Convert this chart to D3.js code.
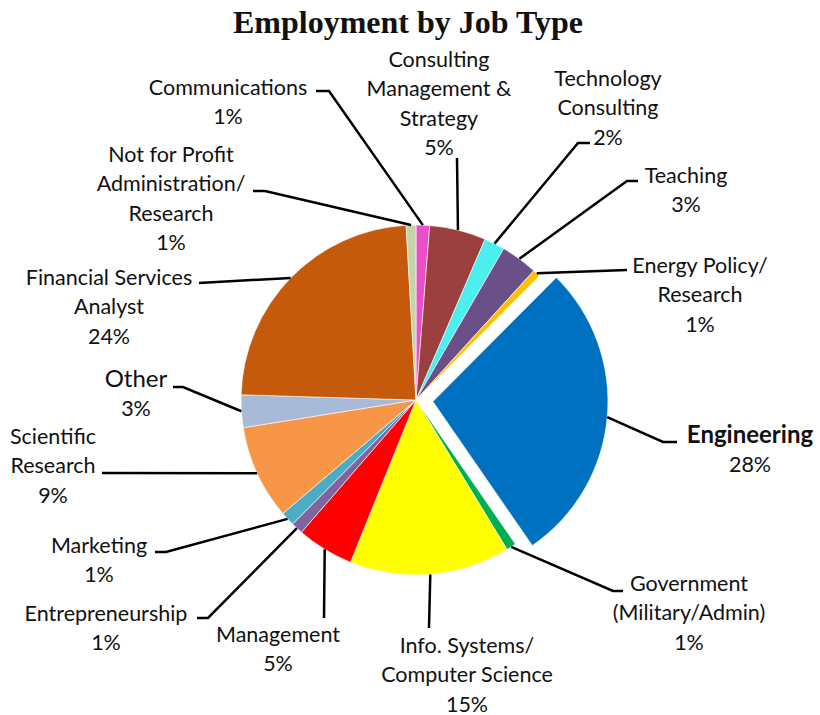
<!DOCTYPE html>
<html>
<head>
<meta charset="utf-8">
<script src="https://cdn.jsdelivr.net/npm/d3@7"></script>
<style>
  body { margin: 0; background: #fff; }
  text { font-family: Lato, "Open Sans", sans-serif; fill: #111; }
</style>
</head>
<body>
<div id="vis"></div>
<script>
// declare constants
const FRAME_WIDTH = 820;
const FRAME_HEIGHT = 715;
const CX = 416, CY = 400, RADIUS = 175;
const EXPLODE = 17;

// data, clockwise from 12 o'clock
const categories = ["Communications", "Consulting Management & Strategy", "Technology Consulting",
  "Teaching", "Energy Policy/ Research", "Engineering", "Government (Military/Admin)",
  "Info. Systems/ Computer Science", "Management", "Entrepreneurship", "Marketing",
  "Scientific Research", "Other", "Financial Services Analyst", "Not for Profit Administration/ Research"];
const values = [1.25, 5.2, 1.9, 3.4, 0.7, 27.9, 0.9, 14.8, 5.25, 1.1, 1.3, 8.7, 3.0, 23.6, 0.9];
const labelLines = [
  ["Communications"],
  ["Consulting", "Management &", "Strategy"],
  ["Technology", "Consulting"],
  ["Teaching"],
  ["Energy Policy/", "Research"],
  ["Engineering"],
  ["Government", "(Military/Admin)"],
  ["Info. Systems/", "Computer Science"],
  ["Management"],
  ["Entrepreneurship"],
  ["Marketing"],
  ["Scientific", "Research"],
  ["Other"],
  ["Financial Services", "Analyst"],
  ["Not for Profit", "Administration/", "Research"]
];
const colors = ["#EB4FC8", "#9B403E", "#4CEFF0", "#6A4F88", "#FFC000", "#0070C0", "#00B050",
  "#FFFF00", "#FF0000", "#8064A2", "#4BACC6", "#F79646", "#A9BAD8", "#C55A0C", "#C4D4A8"];

// label layout: text centre x, first line middle y, leader knee and tail
const labelPos = [
  {tx: 228, ty: 87,  knee: [329, 91],  tail: [316, 91]},
  {tx: 439, ty: 59,  knee: [457, 158], tail: null},
  {tx: 608, ty: 78,  knee: [578, 143], tail: [590, 143]},
  {tx: 686, ty: 175, knee: [627, 181], tail: [638, 181]},
  {tx: 700, ty: 265, knee: [627, 270], tail: null},
  {tx: 750, ty: 435, knee: [663, 442], tail: [677, 442], bold: true},
  {tx: 689, ty: 583, knee: [613, 591], tail: [623, 591]},
  {tx: 467, ty: 645, knee: [429, 628], tail: null},
  {tx: 278, ty: 634, knee: [324, 618], tail: null},
  {tx: 106, ty: 613, knee: [208, 618], tail: [197, 618]},
  {tx: 99,  ty: 545, knee: [166, 552], tail: [155, 552]},
  {tx: 53,  ty: 436, knee: [102, 473], tail: null},
  {tx: 136, ty: 379, knee: [183, 387], tail: [173, 387], big: true},
  {tx: 109, ty: 277, knee: [199, 283], tail: null},
  {tx: 171, ty: 154, knee: [265, 191], tail: [253, 191]}
];
const LINE_H = 29.5;

const total = d3.sum(values);
const data = categories.map((c, i) => ({name: c, value: values[i], lines: labelLines[i],
  color: colors[i], pos: labelPos[i], explode: c === "Engineering"}));

// make the frame
const FRAME = d3.select("#vis")
  .append("svg")
    .attr("width", FRAME_WIDTH)
    .attr("height", FRAME_HEIGHT);

// title
FRAME.append("text")
  .attr("x", 408)
  .attr("y", 33)
  .attr("text-anchor", "middle")
  .style("font-family", "'Liberation Serif', 'Times New Roman', serif")
  .style("font-weight", "bold")
  .style("font-size", "32px")
  .text("Employment by Job Type");

const pie = d3.pie().value(d => d.value).sort(null);
const arc = d3.arc().innerRadius(0).outerRadius(RADIUS);
const arcs = pie(data);

function offset(d) {
  if (!d.data.explode) return [0, 0];
  const a = (d.startAngle + d.endAngle) / 2;
  return [Math.sin(a) * EXPLODE, -Math.cos(a) * EXPLODE];
}

// slices
const pieG = FRAME.append("g").attr("transform", "translate(" + CX + "," + CY + ")");
pieG.selectAll("path")
  .data(arcs)
  .enter()
  .append("path")
    .attr("d", arc)
    .attr("transform", d => "translate(" + offset(d) + ")")
    .attr("fill", d => d.data.color)
    .attr("stroke", "#fff")
    .attr("stroke-width", 0.6);

// leader lines
FRAME.selectAll(".leader")
  .data(arcs)
  .enter()
  .append("polyline")
    .attr("class", "leader")
    .attr("fill", "none")
    .attr("stroke", "#000")
    .attr("stroke-width", 2.5)
    .attr("points", d => {
      const a = (d.startAngle + d.endAngle) / 2;
      const o = offset(d);
      const start = [CX + o[0] + Math.sin(a) * RADIUS, CY + o[1] - Math.cos(a) * RADIUS];
      const pts = [start, d.data.pos.knee];
      if (d.data.pos.tail) pts.push(d.data.pos.tail);
      return pts.map(p => p.join(",")).join(" ");
    });

// labels
const labels = FRAME.selectAll(".label")
  .data(arcs)
  .enter()
  .append("text")
    .attr("class", "label")
    .attr("text-anchor", "middle")
    .style("font-size", "21.5px");

labels.each(function(d) {
  const t = d3.select(this);
  const lines = d.data.lines.concat([Math.round(d.value / total * 100) + "%"]);
  lines.forEach((ln, i) => {
    t.append("tspan")
      .attr("x", d.data.pos.tx)
      .attr("y", d.data.pos.ty + 7.5 + i * LINE_H)
      .style("font-weight", d.data.pos.bold && i === 0 ? "bold" : "normal")
      .style("font-size", i === 0 && d.data.pos.bold ? "24px" : i === 0 && d.data.pos.big ? "24px" : null)
      .text(ln);
  });
});
</script>
</body>
</html>
